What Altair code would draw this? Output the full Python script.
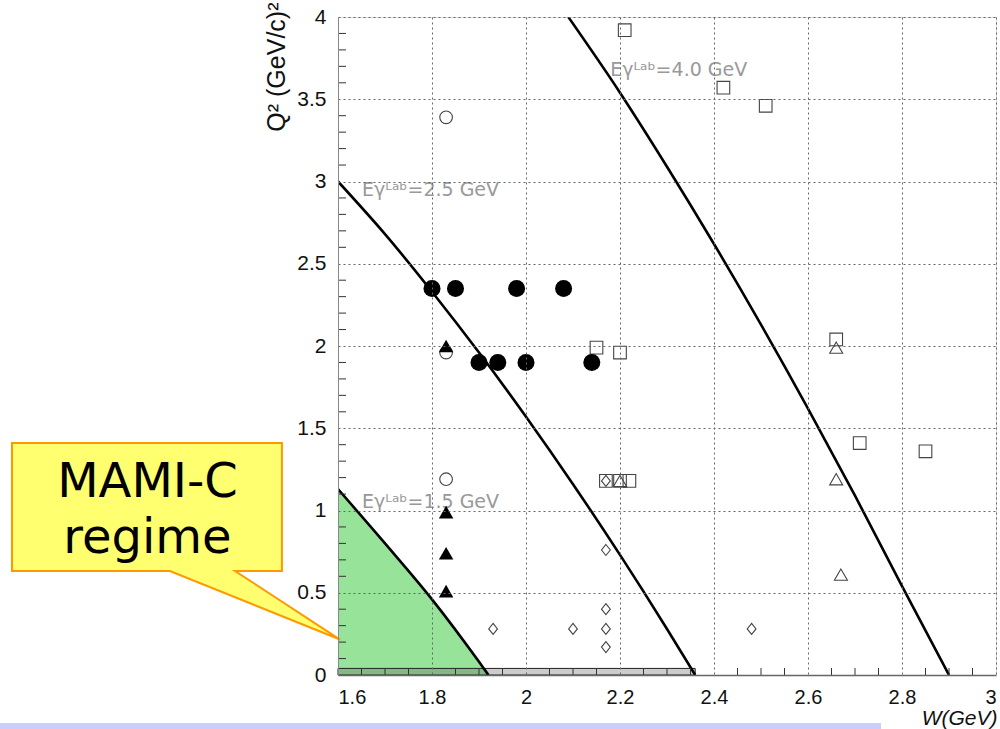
import altair as alt
import pandas as pd

# ---- data ----
# kinematic lines E_gamma^Lab = const  (W in GeV, Q^2 in (GeV/c)^2)
eg15_w = [1.60, 1.70, 1.80, 1.90, 1.92]
eg15_q2 = [1.13, 0.80, 0.46, 0.08, 0.00]
eg25_w = [1.60, 1.70, 1.80, 1.90, 2.00, 2.10, 2.20, 2.30, 2.36]
eg25_q2 = [3.00, 2.68, 2.33, 1.96, 1.57, 1.16, 0.73, 0.28, 0.00]
eg40_w = [2.09, 2.20, 2.30, 2.40, 2.50, 2.60, 2.70, 2.80, 2.90]
eg40_q2 = [4.00, 3.54, 3.09, 2.62, 2.13, 1.62, 1.09, 0.54, 0.00]

# measured points
fcirc_w = [1.80, 1.85, 1.98, 2.08, 1.90, 1.94, 2.00, 2.14]
fcirc_q2 = [2.35, 2.35, 2.35, 2.35, 1.90, 1.90, 1.90, 1.90]
ftri_w = [1.83, 1.83, 1.83, 1.83]
ftri_q2 = [2.00, 0.99, 0.74, 0.51]
ocirc_w = [1.83, 1.83, 1.83]
ocirc_q2 = [3.39, 1.96, 1.19]
osq_w = [2.21, 2.42, 2.51, 2.15, 2.20, 2.17, 2.20, 2.22, 2.66, 2.71, 2.85]
osq_q2 = [3.92, 3.57, 3.46, 1.99, 1.96, 1.18, 1.18, 1.18, 2.04, 1.41, 1.36]
otri_w = [2.66, 2.20, 2.66, 2.67]
otri_q2 = [1.99, 1.18, 1.19, 0.61]
odia_w = [1.93, 2.10, 2.17, 2.17, 2.17, 2.17, 2.48, 2.17]
odia_q2 = [0.28, 0.28, 0.76, 0.40, 0.28, 0.17, 0.28, 1.18]

# excluded low-Q2 band
band_w = [1.60]
band_w2 = [2.36]
band_q2 = [0.0]
band_q22 = [0.04]

# curve labels
lab_text = ["E\u03b3\u1d38\u1d43\u1d47=1.5 GeV", "E\u03b3\u1d38\u1d43\u1d47=2.5 GeV", "E\u03b3\u1d38\u1d43\u1d47=4.0 GeV"]
lab_w = [1.651, 1.651, 2.179]
lab_q2 = [1.05, 2.95, 3.68]

# axis ticks
x_major = [1.6, 1.8, 2.0, 2.2, 2.4, 2.6, 2.8, 3.0]
y_major = [0, 0.5, 1, 1.5, 2, 2.5, 3, 3.5, 4]
x_minor = [1.65, 1.7, 1.75, 1.85, 1.9, 1.95, 2.05, 2.1, 2.15, 2.25, 2.3, 2.35,
           2.45, 2.5, 2.55, 2.65, 2.7, 2.75, 2.85, 2.9, 2.95]
y_minor = [0.1, 0.2, 0.3, 0.4, 0.6, 0.7, 0.8, 0.9, 1.1, 1.2, 1.3, 1.4, 1.6, 1.7,
           1.8, 1.9, 2.1, 2.2, 2.3, 2.4, 2.6, 2.7, 2.8, 2.9, 3.1, 3.2, 3.3, 3.4,
           3.6, 3.7, 3.8, 3.9]

W = 658
H = 658

xs = alt.Scale(domain=[1.6, 3.0], nice=False, zero=False)
ys = alt.Scale(domain=[0, 4], nice=False, zero=False)

x_axis = alt.Axis(values=x_major, format="~g", title="W(GeV)", grid=True,
                  gridColor="#666", gridDash=[2, 3], gridWidth=1, ticks=False,
                  labelFont="Liberation Sans", labelFontSize=20, labelColor="#111",
                  labelPadding=12, domainColor="#666", domainWidth=1.5,
                  titleFont="Liberation Sans", titleFontSize=21, titleFontStyle="italic",
                  titleFontWeight="normal", titleColor="#111",
                  titleX=W + 1, titleY=43, titleAlign="right", titleBaseline="middle",
                  zindex=1)
y_axis = alt.Axis(values=y_major, format="~g", title="Q\u00b2 (GeV/c)\u00b2", grid=True,
                  gridColor="#666", gridDash=[2, 3], gridWidth=1, ticks=False,
                  labelFont="Liberation Sans", labelFontSize=21, labelColor="#111",
                  labelPadding=12, domainColor="#888", domainWidth=1,
                  titleFont="Liberation Sans", titleFontSize=25, titleFontWeight="normal",
                  titleColor="#111", titleAngle=270, titleX=-62, titleY=-15,
                  titleAlign="right", titleBaseline="middle", zindex=1)


def df(**kw):
    return pd.DataFrame(kw)


green = alt.Chart(df(W=eg15_w, Q2=eg15_q2)).mark_area(
    color="#98e39a", opacity=1, interpolate="monotone"
).encode(
    x=alt.X("W:Q", scale=xs, axis=x_axis),
    y=alt.Y("Q2:Q", scale=ys, axis=y_axis),
)

band = alt.Chart(df(W=band_w, W2=band_w2, Q=band_q2, Q2=band_q22)).mark_rect(
    fill="#555", fillOpacity=0.3, stroke="#222", strokeWidth=1
).encode(x="W:Q", x2="W2:Q", y="Q:Q", y2="Q2:Q")

lines = []
for ws, qs in [(eg15_w, eg15_q2), (eg25_w, eg25_q2), (eg40_w, eg40_q2)]:
    lines.append(
        alt.Chart(df(W=ws, Q2=qs)).mark_line(
            color="black", strokeWidth=2.6, clip=True, interpolate="monotone"
        ).encode(x="W:Q", y="Q2:Q")
    )

xminor = alt.Chart(df(W=x_minor)).mark_rule(color="#333", strokeWidth=1).encode(
    x="W:Q", y=alt.value(H), y2=alt.value(H - 7)
)
yminor = alt.Chart(df(Q2=y_minor)).mark_rule(color="#333", strokeWidth=1).encode(
    y="Q2:Q", x=alt.value(0), x2=alt.value(8)
)

labels = alt.Chart(df(W=lab_w, Q2=lab_q2, t=lab_text)).mark_text(
    font="DejaVu Sans", fontSize=19, color="#999", align="left", baseline="middle"
).encode(x="W:Q", y="Q2:Q", text="t:N")

open_style = dict(filled=False, stroke="#444", strokeWidth=1.1, opacity=1)

p_fcirc = alt.Chart(df(W=fcirc_w, Q2=fcirc_q2)).mark_point(
    shape="circle", filled=True, color="black", size=290, opacity=1
).encode(x="W:Q", y="Q2:Q")
p_ftri = alt.Chart(df(W=ftri_w, Q2=ftri_q2)).mark_point(
    shape="triangle-up", filled=True, color="black", size=210, opacity=1
).encode(x="W:Q", y="Q2:Q")
p_ocirc = alt.Chart(df(W=ocirc_w, Q2=ocirc_q2)).mark_point(
    shape="circle", size=160, **open_style
).encode(x="W:Q", y="Q2:Q")
p_osq = alt.Chart(df(W=osq_w, Q2=osq_q2)).mark_point(
    shape="square", size=160, **open_style
).encode(x="W:Q", y="Q2:Q")
p_otri = alt.Chart(df(W=otri_w, Q2=otri_q2)).mark_point(
    shape="triangle-up", size=170, **open_style
).encode(x="W:Q", y="Q2:Q")
p_odia = alt.Chart(df(W=odia_w, Q2=odia_q2)).mark_point(
    shape="M0,-1L0.8,0L0,1L-0.8,0Z", size=121, **open_style
).encode(x="W:Q", y="Q2:Q")

# callout "MAMI-C regime" (custom path symbol, placed in pixel space left of plot)
callout_path = ("M-1,-0.588L0.646,-0.588L0.646,0.192L0.360,0.192L1,0.610"
                "L-0.037,0.192L-1,0.192Z")
callout = alt.Chart(df(k=[0])).mark_point(
    shape=callout_path, size=328 * 328, filled=True, fill="#ffff70", fillOpacity=1,
    stroke="#ff9900", strokeWidth=2, opacity=1, clip=False
).encode(x=alt.value(176 - 338), y=alt.value(539.5 - 17))

callout_text = alt.Chart(df(t=["MAMI-C", "regime"], yy=[497 - 17, 553 - 17])).mark_text(
    font="DejaVu Sans", fontSize=48, color="black", align="center", baseline="alphabetic",
    clip=False
).encode(x=alt.value(147.5 - 338), y=alt.Y("yy:Q", scale=None), text="t:N")

slide_bar = alt.Chart(df(k=[0])).mark_rect(color="#cbcdfa", clip=False).encode(
    x=alt.value(-338), x2=alt.value(881 - 338), y=alt.value(723 - 17), y2=alt.value(729 - 17)
)

chart = alt.layer(
    green, band, *lines, xminor, yminor, labels,
    p_ocirc, p_osq, p_otri, p_odia, p_ftri, p_fcirc,
    callout, callout_text, slide_bar
).properties(
    width=W, height=H,
    padding={"left": 338, "top": 17, "right": 4, "bottom": 54},
    autosize=alt.AutoSizeParams(type="none"),
).configure_view(stroke="#888", strokeWidth=1).configure(background="white")

chart.save("out.html", embed_options={"renderer": "svg", "actions": False})
